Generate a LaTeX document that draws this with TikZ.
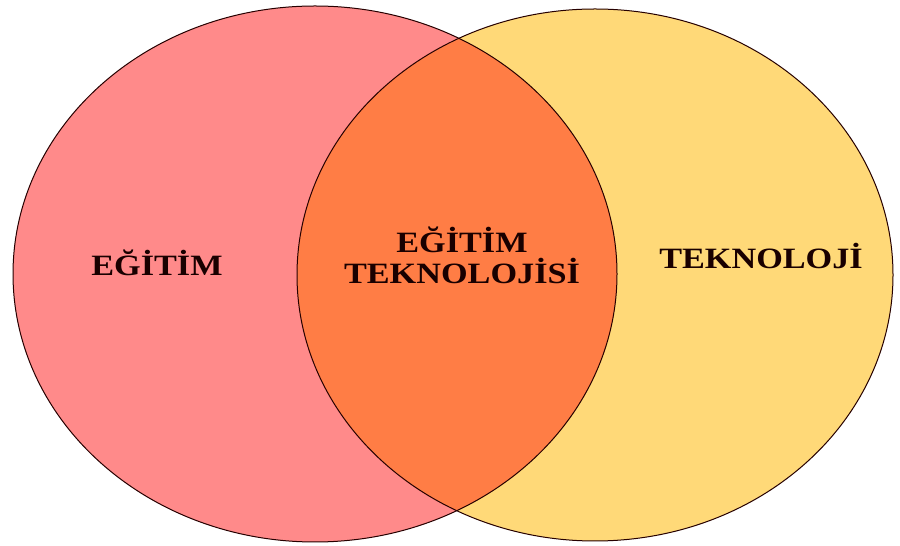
\documentclass[tikz,border=0pt]{standalone}
\usepackage{fontspec}
\setmainfont{Liberation Serif}[FakeStretch=1.16]
\usetikzlibrary{calc}

\definecolor{egitimpink}{RGB}{255,138,138}
\definecolor{teknoyellow}{RGB}{255,217,120}
\definecolor{kesisimorange}{RGB}{255,125,69}

\tikzset{
  settext/.style={font=\fontsize{29.5}{31}\selectfont\bfseries, text=black!90!red, inner sep=0pt},
  setline/.style={draw=black!85!red, line width=1pt}
}

\begin{document}
\begin{tikzpicture}[x=1pt, y=1pt]

  % Frame of the page
  \useasboundingbox (0,0) rectangle (900,546);

  % Centres of the two sets
  \coordinate (L) at (315, 272);
  \coordinate (R) at (595, 271);

  % 1. fill left set
  \fill[egitimpink] (L) ellipse [x radius=302, y radius=268];

  % 2. fill right set
  \fill[teknoyellow] (R) ellipse [x radius=298, y radius=266];

  % 3. overlap
  \begin{scope}
    \clip (L) ellipse [x radius=302, y radius=268];
    \fill[kesisimorange] (R) ellipse [x radius=298, y radius=266];
  \end{scope}

  % Outlines
  \draw[setline] (L) ellipse [x radius=302, y radius=268];
  \draw[setline] (R) ellipse [x radius=298, y radius=266];

  % Labels
  \node[settext, anchor=base] (egitim) at (157, 270) {EĞİTİM};
  \node[settext, anchor=base, align=center] (egitimtek) at (462, 262) {EĞİTİM\\TEKNOLOJİSİ};
  \node[settext, anchor=base] (tekno) at (761, 277) {TEKNOLOJİ};

\end{tikzpicture}
\end{document}
